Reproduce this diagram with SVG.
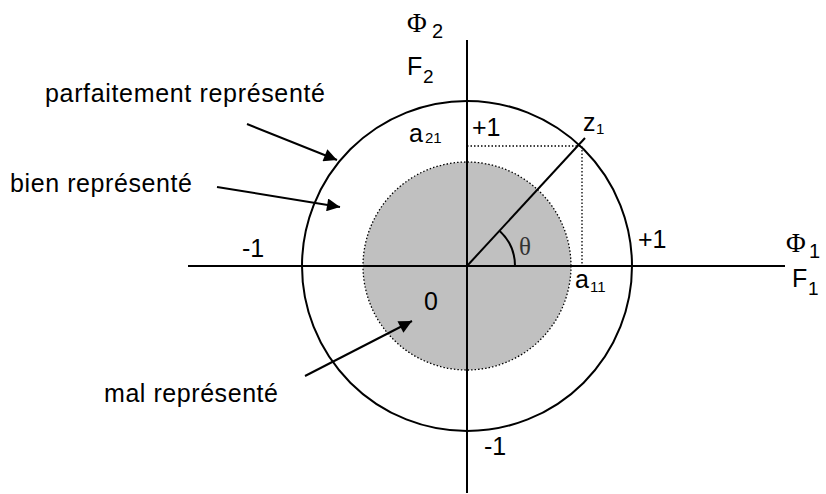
<svg xmlns="http://www.w3.org/2000/svg" width="826" height="494" viewBox="0 0 826 494">
<style>
.t{font-family:"Liberation Sans",Arial,sans-serif;font-size:25px;fill:#000}
.s{font-family:"Liberation Sans",Arial,sans-serif;font-size:17px;fill:#000}
.g{font-family:"Liberation Serif","Times New Roman",serif;font-size:27px;fill:#000}
.ln{stroke:#000;stroke-width:2;fill:none}
.dot{stroke:#000;stroke-width:1.3;stroke-dasharray:1.5 2;fill:none}
</style>
<defs>
<marker id="ah2" viewBox="0 0 10 10" refX="10" refY="5" markerWidth="17" markerHeight="13" markerUnits="userSpaceOnUse" orient="auto">
<path d="M0,0 L10,5 L0,10 Z" fill="#000"/>
</marker>
</defs>
<rect width="826" height="494" fill="#fff"/>
<g id="inner-circle">
<circle cx="467" cy="266" r="104" fill="#c0c0c0" stroke="#000" stroke-width="1.3" stroke-dasharray="1.5 2"/>
</g>
<g id="outer-circle">
<circle cx="467" cy="266" r="165" class="ln"/>
</g>
<g id="axes">
<line x1="188" y1="266" x2="785" y2="266" class="ln"/>
<line x1="467" y1="40" x2="467" y2="493" class="ln"/>
</g>
<g id="z1-vector">
<line x1="467" y1="266" x2="585" y2="138" class="ln"/>
<polyline points="467,146 582,146 582,266" class="dot"/>
<path d="M515,266 A48,48 0 0 0 499.7,230.9" class="ln"/>
</g>
<g id="connectors">
<line x1="247" y1="124" x2="337" y2="160" class="ln" marker-end="url(#ah2)"/>
<line x1="217" y1="187" x2="340" y2="207" class="ln" marker-end="url(#ah2)"/>
<line x1="305" y1="376" x2="412" y2="321" class="ln" marker-end="url(#ah2)"/>
</g>
<g id="labels">
<text class="t" x="45" y="102" textLength="280" lengthAdjust="spacing">parfaitement représenté</text>
<text class="t" x="10" y="192" textLength="182" lengthAdjust="spacing">bien représenté</text>
<text class="t" x="104" y="402" textLength="174" lengthAdjust="spacing">mal représenté</text>
<text class="g" x="407" y="32">Φ</text><text class="s" x="432" y="38" style="font-size:20px">2</text>
<text class="t" x="407" y="75">F</text><text class="s" x="423" y="83" style="font-size:19px">2</text>
<text class="g" x="786" y="252">Φ</text><text class="s" x="809" y="258" style="font-size:20px">1</text>
<text class="t" x="792" y="287">F</text><text class="s" x="808" y="295" style="font-size:19px">1</text>
<text class="t" x="409" y="142">a</text><text class="s" x="425" y="143" style="font-size:15px">21</text>
<text class="t" x="472" y="136">+1</text>
<text class="t" x="583" y="131">z</text><text class="s" x="596" y="134" style="font-size:15px">1</text>
<text class="t" x="575" y="288">a</text><text class="s" x="590" y="292" style="font-size:15px">11</text>
<text class="g" x="519" y="255" style="font-size:25px;fill:#333">θ</text>
<text class="t" x="638" y="248">+1</text>
<text class="t" x="242" y="257">-1</text>
<text class="t" x="424" y="310">0</text>
<text class="t" x="484" y="455">-1</text>
</g>
</svg>
